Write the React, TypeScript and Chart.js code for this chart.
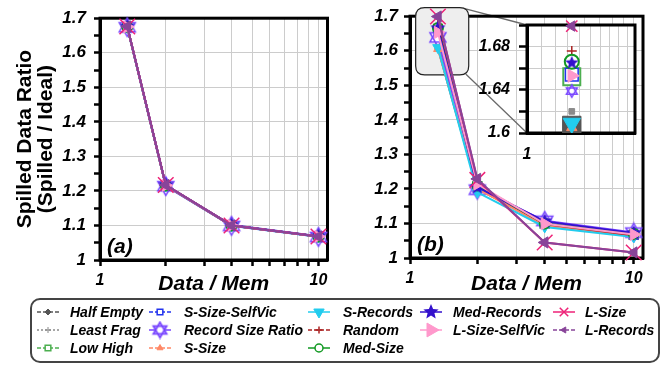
import React, { useEffect, useRef } from 'react';
import { Chart, registerables } from 'chart.js';
import { drawPoint } from 'chart.js/helpers';

Chart.register(...registerables);

const FONT = "'Liberation Sans', Arial, Helvetica, sans-serif";

// ---------------- data ----------------
const xValues = [1.333, 2, 4, 10];
const xGridValues = [1, 2, 3, 4, 5, 6, 7, 8, 9, 10];
const xTickLabels = [1, 10];
const yTickValues = [1, 1.05, 1.1, 1.15, 1.2, 1.25, 1.3, 1.35, 1.4, 1.45, 1.5, 1.55, 1.6, 1.65, 1.7];
const yTickLabels = ['1', '', '1.1', '', '1.2', '', '1.3', '', '1.4', '', '1.5', '', '1.6', '', '1.7'];
const insetXGrid = [1, 1.1, 1.2, 1.3, 1.4, 1.5, 1.6, 1.7, 1.8, 1.9, 2];
const insetXTickLabels = [1];
const insetYTickValues = [1.6, 1.62, 1.64, 1.66, 1.68, 1.7];
const insetYTickLabels = ['1.6', '', '1.64', '', '1.68', ''];
const zoomBoxX = [1.06, 1.83];
const zoomBoxY = [1.53, 1.725];

const seriesNames = [
  'Half Empty', 'Least Frag', 'Low High', 'S-Size-SelfVic', 'Record Size Ratio', 'S-Size',
  'S-Records', 'Random', 'Med-Size', 'Med-Records', 'L-Size-SelfVic', 'L-Size', 'L-Records',
];

// panel (a)
const aHalfEmpty = [1.675, 1.216, 1.1, 1.068];
const aLeastFrag = [1.674, 1.215, 1.1, 1.068];
const aLowHigh = [1.675, 1.216, 1.1, 1.068];
const aSSizeSelfVic = [1.675, 1.216, 1.1, 1.068];
const aRecordSizeRatio = [1.674, 1.214, 1.099, 1.067];
const aSSize = [1.675, 1.216, 1.1, 1.068];
const aSRecords = [1.674, 1.215, 1.099, 1.067];
const aRandom = [1.675, 1.216, 1.1, 1.068];
const aMedSize = [1.675, 1.216, 1.1, 1.068];
const aMedRecords = [1.676, 1.217, 1.101, 1.069];
const aLSizeSelfVic = [1.675, 1.216, 1.1, 1.068];
const aLSize = [1.676, 1.217, 1.1, 1.068];
const aLRecords = [1.676, 1.217, 1.1, 1.068];

// panel (b)
const bHalfEmpty = [1.607, 1.202, 1.095, 1.064];
const bLeastFrag = [1.62, 1.205, 1.096, 1.065];
const bLowHigh = [1.652, 1.208, 1.1, 1.068];
const bSSizeSelfVic = [1.654, 1.206, 1.1, 1.067];
const bRecordSizeRatio = [1.639, 1.198, 1.108, 1.074];
const bSSize = [1.605, 1.2, 1.094, 1.064];
const bSRecords = [1.609, 1.19, 1.09, 1.061];
const bRandom = [1.676, 1.21, 1.098, 1.066];
const bMedSize = [1.666, 1.21, 1.1, 1.07];
const bMedRecords = [1.665, 1.205, 1.106, 1.072];
const bLSizeSelfVic = [1.653, 1.214, 1.099, 1.068];
const bLSize = [1.699, 1.226, 1.045, 1.016];
const bLRecords = [1.699, 1.229, 1.045, 1.016];

const aSeries = [aHalfEmpty, aLeastFrag, aLowHigh, aSSizeSelfVic, aRecordSizeRatio, aSSize, aSRecords, aRandom, aMedSize, aMedRecords, aLSizeSelfVic, aLSize, aLRecords];
const bSeries = [bHalfEmpty, bLeastFrag, bLowHigh, bSSizeSelfVic, bRecordSizeRatio, bSSize, bSRecords, bRandom, bMedSize, bMedRecords, bLSizeSelfVic, bLSize, bLRecords];

// legend grid placement (column, row) per series
const legendCol = [0, 0, 0, 1, 1, 1, 2, 2, 2, 3, 3, 4, 4];
const legendRow = [0, 1, 2, 0, 1, 2, 0, 1, 2, 0, 1, 0, 1];

// ---------------- styles ----------------
// r: main plot radius, ir: inset radius, lr: legend radius
const seriesStyles = [
  { color: '#555555', style: 'rect', rot: 0, r: 4, ir: 13, fill: true, bw: 1, lStyle: 'rectRot', lr: 3, dash: [4, 2] },
  { color: '#8a8a8a', style: 'rect', rot: 0, r: 3, ir: 4, fill: true, bw: 1, lStyle: 'cross', lr: 3, dash: [2, 2] },
  { color: '#4caf50', style: 'rect', rot: 0, r: 6, ir: 12, fill: false, bw: 2, lStyle: 'rect', lr: 4, dash: [4, 2] },
  { color: '#2233ee', style: 'rect', rot: 0, r: 6, ir: 9, fill: false, bw: 1.5, lStyle: 'rect', lr: 4, dash: [4, 2] },
  { color: '#7744ff', style: 'hexagram', rot: 0, r: 10, ir: 7, fill: false, bw: 1.5, lStyle: 'hexagram', lr: 8.5, dash: [] },
  { color: '#ff8866', style: 'triangle', rot: 0, r: 5, ir: 6, fill: true, bw: 1, lStyle: 'triangle', lr: 3.5, dash: [4, 2] },
  { color: '#22ccee', style: 'triangle', rot: 180, r: 6, ir: 10, fill: true, bw: 1, lStyle: 'triangle', lr: 6, dash: [] },
  { color: '#aa2222', style: 'cross', rot: 0, r: 5, ir: 5, fill: false, bw: 1.5, lStyle: 'cross', lr: 3.5, dash: [4, 2] },
  { color: '#119922', style: 'circle', rot: 0, r: 5, ir: 7, fill: false, bw: 2, lStyle: 'circle', lr: 4, dash: [] },
  { color: '#3311cc', style: 'star5', rot: 0, r: 8, ir: 7, fill: true, bw: 1, lStyle: 'star5', lr: 8, dash: [] },
  { color: '#ff99cc', style: 'triangle', rot: 90, r: 7, ir: 7.5, fill: true, bw: 1, lStyle: 'triangle', lr: 8, dash: [] },
  { color: '#ee2277', style: 'crossRot', rot: 0, r: 11, ir: 8, fill: false, bw: 1.5, lStyle: 'crossRot', lr: 6, dash: [] },
  { color: '#884499', style: 'triangle', rot: -90, r: 6.5, ir: 6, fill: true, bw: 1, lStyle: 'triangle', lr: 3.5, dash: [4, 2] },
];

const imgCache: Record<string, HTMLCanvasElement> = {};
function makeImage(kind: string, r: number, color: string, lw: number): HTMLCanvasElement {
  const key = kind + r + color + lw;
  if (imgCache[key]) return imgCache[key];
  const size = Math.ceil(2 * r + 2);
  const c = document.createElement('canvas');
  c.width = size; c.height = size;
  const g = c.getContext('2d')!;
  const cx = size / 2, cy = size / 2;
  if (kind === 'hexagram') {
    const rr = r - lw / 2;
    const tri = (off: number) => {
      g.beginPath();
      for (let k = 0; k < 3; k++) {
        const a = off + (k * 2 * Math.PI) / 3;
        const x = cx + rr * Math.sin(a), y = cy - rr * Math.cos(a);
        if (k === 0) g.moveTo(x, y); else g.lineTo(x, y);
      }
      g.closePath();
    };
    g.fillStyle = '#ffffff'; g.strokeStyle = color; g.lineWidth = lw;
    tri(0); g.fill(); tri(Math.PI); g.fill();
    tri(0); g.stroke(); tri(Math.PI); g.stroke();
  } else {
    g.beginPath();
    for (let k = 0; k < 10; k++) {
      const a = (k * Math.PI) / 5;
      const rr = k % 2 === 0 ? r : r * 0.45;
      const x = cx + rr * Math.sin(a), y = cy - rr * Math.cos(a);
      if (k === 0) g.moveTo(x, y); else g.lineTo(x, y);
    }
    g.closePath();
    g.fillStyle = color; g.fill();
  }
  imgCache[key] = c;
  return c;
}

function pointStyleOf(kind: string, r: number, color: string, lw: number): any {
  if (kind === 'hexagram' || kind === 'star5') return makeImage(kind, r, color, lw);
  return kind;
}

// layout (page pixels)
const RIGHT_CANVAS_LEFT = 330;
const INSET_CANVAS_LEFT = 455;
const INSET_AREA = { left: 527, top: 25, bottom: 133 };

const tickFont = (size: number) => ({ family: FONT, size, weight: 'bold' as const, style: 'italic' as const });

function makeDataset(i: number, vals: number[], inset: boolean) {
  const s = seriesStyles[i];
  const r = inset ? s.ir : s.r;
  return {
    label: seriesNames[i],
    data: xValues.map((x, j) => ({ x, y: vals[j] })),
    borderColor: s.color,
    backgroundColor: s.color,
    borderWidth: 2,
    showLine: !inset,
    tension: 0,
    pointStyle: pointStyleOf(s.style, r, s.color, s.bw),
    pointRotation: s.rot,
    pointRadius: r,
    pointBorderWidth: s.bw,
    pointBorderColor: s.color,
    pointBackgroundColor: s.fill ? s.color : '#ffffff',
    order: seriesNames.length - i,
    clip: inset ? { left: 0, top: 12, right: 0, bottom: 0 } : false,
  };
}

function roundRectPath(ctx: CanvasRenderingContext2D, x: number, y: number, w: number, h: number, r: number) {
  ctx.beginPath();
  ctx.moveTo(x + r, y);
  ctx.lineTo(x + w - r, y);
  ctx.quadraticCurveTo(x + w, y, x + w, y + r);
  ctx.lineTo(x + w, y + h - r);
  ctx.quadraticCurveTo(x + w, y + h, x + w - r, y + h);
  ctx.lineTo(x + r, y + h);
  ctx.quadraticCurveTo(x, y + h, x, y + h - r);
  ctx.lineTo(x, y + r);
  ctx.quadraticCurveTo(x, y, x + r, y);
  ctx.closePath();
}

function decoPlugin(panel: 'a' | 'b') {
  return {
    id: 'deco' + panel,
    beforeDatasetsDraw(chart: any) {
      const { ctx, chartArea: a, scales } = chart;
      ctx.save();
      let bx0 = 0, bx1 = 0, by0 = 0, by1 = 0;
      if (panel === 'b') {
        bx0 = scales.x.getPixelForValue(zoomBoxX[0]);
        bx1 = scales.x.getPixelForValue(zoomBoxX[1]);
        by0 = scales.y.getPixelForValue(zoomBoxY[1]);
        by1 = scales.y.getPixelForValue(zoomBoxY[0]);
        ctx.strokeStyle = '#6a6a6a';
        ctx.lineWidth = 1.3;
        ctx.beginPath();
        ctx.moveTo(bx1 - 4, by0 + 1);
        ctx.lineTo(INSET_AREA.left - RIGHT_CANVAS_LEFT, INSET_AREA.top);
        ctx.moveTo(bx1 - 3, by1 - 1);
        ctx.lineTo(INSET_AREA.left - RIGHT_CANVAS_LEFT, INSET_AREA.bottom);
        ctx.stroke();
      }
      ctx.strokeStyle = '#000';
      ctx.lineWidth = 3;
      ctx.strokeRect(a.left, a.top, a.right - a.left, a.bottom - a.top);
      if (panel === 'b') {
        roundRectPath(ctx, bx0, by0, bx1 - bx0, by1 - by0, 9);
        ctx.fillStyle = '#eeeeee';
        ctx.fill();
        ctx.strokeStyle = '#222';
        ctx.lineWidth = 1.2;
        ctx.stroke();
      }
      ctx.restore();
    },
    afterDatasetsDraw(chart: any) {
      const { ctx, chartArea: a } = chart;
      ctx.save();
      ctx.font = `italic bold 21px ${FONT}`;
      ctx.fillStyle = '#000';
      ctx.textBaseline = 'middle';
      ctx.textAlign = 'left';
      ctx.fillText(panel === 'a' ? '(a)' : '(b)', a.left + 7, a.bottom - 13);
      ctx.restore();
    },
  };
}

function mainConfig(panel: 'a' | 'b'): any {
  const isA = panel === 'a';
  const vals = isA ? aSeries : bSeries;
  return {
    type: 'line',
    data: { datasets: seriesNames.map((_, i) => makeDataset(i, vals[i], false)) },
    options: {
      animation: false,
      responsive: false,
      events: [],
      layout: { padding: isA ? { top: 15, right: 10, left: 0, bottom: 0 } : { top: 13, right: 25, left: 0, bottom: 0 } },
      plugins: { legend: { display: false }, tooltip: { enabled: false } },
      scales: {
        x: {
          type: 'logarithmic',
          min: 1,
          max: 11,
          afterBuildTicks: (s: any) => { s.ticks = xGridValues.map((v) => ({ value: v })); },
          afterFit: (s: any) => { s.height = isA ? 40 : 42; },
          ticks: {
            autoSkip: false, maxRotation: 0, padding: 5, color: '#000', font: tickFont(16),
            callback: (v: number) => (xTickLabels.includes(v) ? String(v) : ''),
          },
          grid: { color: '#cccccc', lineWidth: 1, tickColor: '#000', tickLength: 6, tickWidth: 2.5 },
          border: { color: '#000', width: 3 },
          title: {
            display: true, text: 'Data / Mem', color: '#000',
            font: { family: FONT, size: 21, weight: 'bold', style: 'italic', lineHeight: 1.2 },
            padding: { top: 0, bottom: 3 },
          },
        },
        y: {
          min: 1,
          max: 1.7,
          afterBuildTicks: (s: any) => { s.ticks = yTickValues.map((v) => ({ value: v })); },
          afterFit: (s: any) => { s.width = isA ? 100 : 80; },
          ticks: {
            autoSkip: false, padding: isA ? 8 : 6, color: '#000', font: tickFont(17),
            callback: (_v: number, idx: number) => yTickLabels[idx],
          },
          grid: {
            color: (c: any) => (c.index !== undefined && yTickLabels[c.index] ? '#cccccc' : 'rgba(0,0,0,0)'),
            lineWidth: 1, tickColor: '#000', tickLength: 6, tickWidth: 2.5,
          },
          border: { color: '#000', width: 3 },
          title: isA
            ? {
                display: true, text: ['Spilled Data Ratio', '(Spilled / Ideal)'], color: '#000',
                font: { family: FONT, size: 21, weight: 'bold', lineHeight: 0.98 },
                padding: { top: 15, bottom: 0 },
              }
            : { display: false },
        },
      },
    },
    plugins: [decoPlugin(panel)],
  };
}

function insetConfig(): any {
  return {
    type: 'line',
    data: { datasets: seriesNames.map((_, i) => makeDataset(i, bSeries[i], true)) },
    options: {
      animation: false,
      responsive: false,
      events: [],
      layout: { padding: { top: 25, right: 15, left: 0, bottom: 0 } },
      plugins: { legend: { display: false }, tooltip: { enabled: false } },
      scales: {
        x: {
          type: 'logarithmic',
          min: 1,
          max: 2,
          afterBuildTicks: (s: any) => { s.ticks = insetXGrid.map((v) => ({ value: v })); },
          afterFit: (s: any) => { s.height = 37; },
          ticks: {
            autoSkip: false, maxRotation: 0, padding: 12, color: '#000', font: tickFont(16),
            callback: (v: number) => (insetXTickLabels.includes(v) ? String(v) : ''),
          },
          grid: { color: '#cccccc', lineWidth: 1, drawTicks: false },
          border: { color: '#000', width: 3 },
        },
        y: {
          min: 1.6,
          max: 1.7,
          afterBuildTicks: (s: any) => { s.ticks = insetYTickValues.map((v) => ({ value: v })); },
          afterFit: (s: any) => { s.width = 72; },
          ticks: {
            autoSkip: false, padding: 9, color: '#000', font: tickFont(16),
            callback: (_v: number, idx: number) => insetYTickLabels[idx],
          },
          grid: { color: '#cccccc', lineWidth: 1, tickColor: '#000', tickLength: 8, tickWidth: 2.5 },
          border: { color: '#000', width: 3 },
        },
      },
    },
    plugins: [
      {
        id: 'insetBg',
        beforeDraw(chart: any) {
          const { ctx, chartArea: a } = chart;
          ctx.save();
          ctx.fillStyle = '#ffffff';
          ctx.fillRect(a.left, a.top, a.right - a.left, a.bottom - a.top);
          ctx.restore();
        },
        beforeDatasetsDraw(chart: any) {
          const { ctx, chartArea: a } = chart;
          ctx.save();
          ctx.strokeStyle = '#000';
          ctx.lineWidth = 3;
          ctx.strokeRect(a.left, a.top, a.right - a.left, a.bottom - a.top);
          ctx.restore();
        },
      },
    ],
  };
}

function ChartCanvas({ config, left, top, width, height }: { config: () => any; left: number; top: number; width: number; height: number }) {
  const ref = useRef<HTMLCanvasElement>(null);
  useEffect(() => {
    const chart = new Chart(ref.current!, config());
    return () => chart.destroy();
  }, []);
  return <canvas ref={ref} width={width} height={height} style={{ position: 'absolute', left, top, width, height }} />;
}

function LegendSymbol({ idx, left, top }: { idx: number; left: number; top: number }) {
  const ref = useRef<HTMLCanvasElement>(null);
  useEffect(() => {
    const c = ref.current!;
    const ctx = c.getContext('2d')!;
    const s = seriesStyles[idx];
    const w = c.width, h = c.height, cx = w / 2, cy = h / 2;
    ctx.clearRect(0, 0, w, h);
    ctx.strokeStyle = s.color;
    ctx.lineWidth = 1.5;
    ctx.setLineDash(s.dash);
    ctx.beginPath();
    ctx.moveTo(1, cy);
    ctx.lineTo(w - 1, cy);
    ctx.stroke();
    ctx.setLineDash([]);
    ctx.fillStyle = s.fill ? s.color : '#ffffff';
    ctx.strokeStyle = s.color;
    ctx.lineWidth = s.bw > 1.5 ? 1.5 : s.bw;
    drawPoint(ctx, { pointStyle: pointStyleOf(s.lStyle, s.lr, s.color, 1.8), rotation: s.rot, radius: s.lr, borderWidth: ctx.lineWidth } as any, cx, cy);
  }, [idx]);
  return <canvas ref={ref} width={24} height={20} style={{ position: 'absolute', left, top, width: 24, height: 20 }} />;
}

const legendSymbolLefts = [36, 148, 307, 419, 552];
const legendTextLefts = [70, 184, 343, 453, 585];
const legendRowCenters = [312, 330, 348];

export default function App() {
  return (
    <div style={{ position: 'absolute', left: 0, top: 0, width: 668, height: 366, background: '#fff', overflow: 'hidden' }}>
      <ChartCanvas config={() => mainConfig('a')} left={0} top={0} width={340} height={300} />
      <ChartCanvas config={() => mainConfig('b')} left={RIGHT_CANVAS_LEFT} top={0} width={338} height={300} />
      <ChartCanvas config={insetConfig} left={INSET_CANVAS_LEFT} top={0} width={195} height={170} />
      <div
        style={{
          position: 'absolute', left: 30, top: 298, width: 630, height: 65, boxSizing: 'border-box',
          border: '2px solid #444', borderRadius: 10,
        }}
      />
      {seriesNames.map((name, i) => {
        const col = legendCol[i];
        const cy = legendRowCenters[legendRow[i]];
        return (
          <React.Fragment key={name}>
            <LegendSymbol idx={i} left={legendSymbolLefts[col]} top={cy - 10} />
            <span
              style={{
                position: 'absolute', left: legendTextLefts[col], top: cy - 9, lineHeight: '18px', height: 18,
                fontFamily: FONT, fontSize: 14, fontWeight: 'bold', fontStyle: 'italic', color: '#000', whiteSpace: 'nowrap',
              }}
            >
              {name}
            </span>
          </React.Fragment>
        );
      })}
    </div>
  );
}
